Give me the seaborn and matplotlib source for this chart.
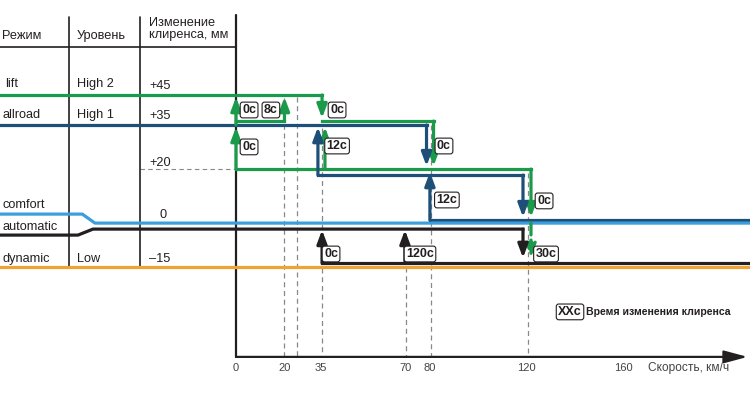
import matplotlib
matplotlib.use("Agg")
import matplotlib.pyplot as plt
import pandas as pd
import seaborn as sns

# table on the left
modes = ["lift", "allroad", "comfort", "automatic", "dynamic"]
levels = ["High 2", "High 1", "Low"]
clearance = ["+45", "+35", "+20", "0", "\u201315"]
speed_ticks = [0, 20, 35, 70, 80, 120, 160]
guide_speeds = [20, 25, 35.5, 70, 80.5, 120.3]

# schematic height of each track (clearance-like units)
Y_LIFT, Y_G35, Y_B35 = 45, 36.3, 35
Y_G20, Y_B20 = 20.3, 18.3
Y_B0, Y_C0, Y_A0 = 3.3, 2.3, 0.3
Y_A15, Y_D15 = -11, -12.3
Y_AXIS = -42.3
X0, X1 = -97.36, 212.05

GREEN = "#1b9a4b"
BLUE = "#1d4f78"
LIGHT = "#3a9fdc"
ORANGE = "#f0a232"
BLACK = "#231f20"

# horizontal tracks: (name, speeds, heights)
tracks = [
    ("lift", [X0, 35.5], [Y_LIFT, Y_LIFT]),
    ("green35a", [0, 20], [Y_G35, Y_G35]),
    ("green35b", [35.5, 81.5], [Y_G35, Y_G35]),
    ("green20", [0, 121.7], [Y_G20, Y_G20]),
    ("allroad", [X0, 78.6], [Y_B35, Y_B35]),
    ("blue20", [33.8, 118.4], [Y_B20, Y_B20]),
    ("blue0", [80, X1], [Y_B0, Y_B0]),
    ("comfort", [X0, -63.4, -58.2, X1], [5.3, 5.3, Y_C0, Y_C0]),
    ("automatic", [X0, -65.2, -59, 118.4], [-1.7, -1.7, Y_A0, Y_A0]),
    ("autolow", [35.5, X1], [Y_A15, Y_A15]),
    ("dynamic", [X0, X1], [Y_D15, Y_D15]),
]
track_colors = {"lift": GREEN, "green35a": GREEN, "green35b": GREEN, "green20": GREEN,
                "allroad": BLUE, "blue20": BLUE, "blue0": BLUE, "comfort": LIGHT,
                "automatic": BLACK, "autolow": BLACK, "dynamic": ORANGE}

# transitions: speed, from, to, colour, dashed
arrows = [
    (0, Y_B35, 44.3, GREEN, False),
    (0, Y_G20, 34.3, GREEN, False),
    (20, Y_G35, 44.3, GREEN, False),
    (35.5, Y_LIFT, 37.3, GREEN, False),
    (36.7, Y_G20, 34.3, GREEN, False),
    (81.5, Y_G35, 21.3, GREEN, False),
    (121.7, Y_G20, 4.3, GREEN, False),
    (121.7, Y_C0, -9.3, GREEN, True),
    (33.8, Y_B20, 34.3, BLUE, False),
    (78.6, Y_B35, 21.3, BLUE, False),
    (80, Y_B0, 19.3, BLUE, False),
    (118.4, Y_B20, 4.3, BLUE, False),
    (35.5, Y_A15, 0.0, BLACK, False),
    (69.7, Y_A15, 0.0, BLACK, False),
    (118.4, Y_A0, -9.3, BLACK, False),
]

# time labels: text, speed, height
times = [
    ("0\u0441", 5.4, 40), ("8\u0441", 14.4, 40), ("0\u0441", 41.7, 40),
    ("0\u0441", 5.4, 27.7), ("12\u0441", 41.7, 28), ("0\u0441", 85.8, 28),
    ("12\u0441", 87.0, 10), ("0\u0441", 127.1, 9.7),
    ("0\u0441", 39.2, -8), ("120\u0441", 75.9, -8), ("30\u0441", 127.9, -8),
]

sns.set_theme(style="white")
plt.rcParams["font.family"] = ["DejaVu Sans Condensed", "Liberation Sans", "DejaVu Sans"]

fig = plt.figure(figsize=(7.5, 3.97), dpi=100)
ax = fig.add_axes([0, 0, 1, 1])
ax.set_xlim(X0, X1)
ax.set_ylim(-55.67, 76.67)
ax.axis("off")

rows = []
for name, xs, ys in tracks:
    for x, y in zip(xs, ys):
        rows.append({"track": name, "speed": x, "y": y})
df = pd.DataFrame(rows)
sns.lineplot(data=df, x="speed", y="y", hue="track", palette=track_colors,
             estimator=None, sort=False, lw=2.3, legend=False, ax=ax,
             solid_capstyle="projecting", zorder=3)

# guide lines
guide_tops = [44, 44.5, 34, -12.5, 35, 19]
for s, top in zip(guide_speeds, guide_tops):
    ax.plot([s, s], [top, Y_AXIS], color="#888888", lw=0.9, ls=(0, (4, 3)), zorder=1)
ax.plot([-39.6, 0], [Y_G20, Y_G20], color="#888888", lw=0.8, ls=(0, (4, 3)), zorder=1)

for s, y0, y1, c, dashed in arrows:
    ax.annotate("", xy=(s, y1), xytext=(s, y0),
                arrowprops=dict(arrowstyle="-|>,head_length=0.8,head_width=0.3",
                                color=c, lw=2.3, ls="--" if dashed else "-",
                                shrinkA=0, shrinkB=0, mutation_scale=10),
                zorder=4)

box = dict(boxstyle="round,pad=0.15,rounding_size=0.2", fc="white", ec=BLACK, lw=0.8)
for t, s, y in times:
    ax.text(s, y, t, fontsize=9, fontweight="bold", color=BLACK, ha="center", va="center",
            bbox=box, zorder=6)

# table
tab = dict(color=BLACK, lw=1.2, zorder=2)
ax.plot([X0, 0], [61, 61], **tab)
ax.plot([-68.9, -68.9], [71, Y_D15], **tab)
ax.plot([-39.6, -39.6], [71, Y_D15], **tab)
ax.plot([0, 0], [71.7, Y_AXIS], color=BLACK, lw=1.6, zorder=2)

hdr = dict(fontsize=9.2, color=BLACK, va="center")
ax.text(-96.5, 64.7, "Режим", **hdr)
ax.text(-65.6, 64.7, "Уровень", **hdr)
ax.text(-35.9, 67.0, "Изменение\nклиренса, мм", linespacing=1.05, **hdr)

row = dict(fontsize=9.2, color=BLACK, va="center")
mode_y = [48.7, 38.3, 8.3, 1.0, -9.7]
for m, y in zip(modes, mode_y):
    ax.text(-96.3 if m != "lift" else -95.3, y, m, **row)
for lv, y in zip(levels, [48.7, 38.3, -9.7]):
    ax.text(-65.6, y, lv, **row)
for cl, y in zip(clearance, [48.0, 38.0, 22.3, 5.0, -9.7]):
    ax.text(-30.1 if cl == "0" else -35.9, y, cl, ha="center" if cl == "0" else "left", **row)

# speed axis
ax.annotate("", xy=(X1 - 1, Y_AXIS), xytext=(0, Y_AXIS),
            arrowprops=dict(arrowstyle="-|>,head_length=1.3,head_width=0.35",
                            color=BLACK, lw=1.6, shrinkA=0, shrinkB=0, mutation_scale=11))
for s in speed_ticks:
    ax.text(s, -46, str(s), fontsize=8, color="#444444", ha="center", va="center")
ax.text(170, -46, "Скорость, км/ч", fontsize=8.6, color="#444444", ha="left", va="center")

# legend
ax.text(137.8, -27.3, "XX\u0441", fontsize=9, fontweight="bold", color=BLACK,
        ha="center", va="center", bbox=box)
ax.text(144.4, -27.3, "Время изменения клиренса", fontsize=7.6, fontweight="bold",
        color=BLACK, ha="left", va="center")

fig.savefig("out.png", dpi=100)
